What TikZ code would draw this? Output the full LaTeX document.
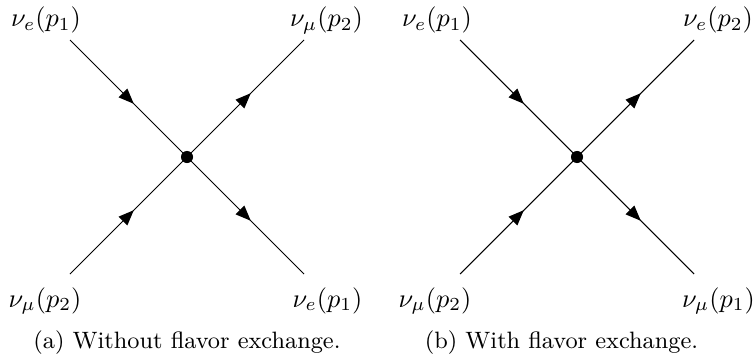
\documentclass[tikz,border=0pt]{standalone}
\usetikzlibrary{decorations.markings,arrows.meta}
\begin{document}
\begin{tikzpicture}[x=0.38pt,y=-0.38pt,
  fermion/.style={postaction={decorate},decoration={markings,
     mark=at position 0.5 with {\arrow[xshift=2.9pt]{Triangle[length=5.8pt,width=4.6pt]}}}},
  vdot/.style={circle,fill=black,inner sep=0pt,minimum size=4.6pt},
  plabel/.style={anchor=base,inner sep=0pt},
  caplabel/.style={anchor=base,inner sep=0pt,font=\small}]
\useasboundingbox (0,0) rectangle (754,360);
% diagram (a)
\node[vdot] (va) at (187,157) {};
\coordinate (a1) at (70,40);
\coordinate (a2) at (304,40);
\coordinate (a3) at (70,274);
\coordinate (a4) at (304,274);
\draw[fermion] (a1) -- (va.center);
\draw[fermion] (a3) -- (va.center);
\draw[fermion] (va.center) -- (a2);
\draw[fermion] (va.center) -- (a4);
\node[plabel] (la1) at (46,27) {$\nu_e(p_1)$};
\node[plabel] (la2) at (326.5,27) {$\nu_\mu(p_2)$};
\node[plabel] (la3) at (45,307) {$\nu_\mu(p_2)$};
\node[plabel] (la4) at (327.5,307) {$\nu_e(p_1)$};
\node[caplabel] (ca) at (187,348) {(a) Without flavor exchange.};
% diagram (b)
\node[vdot] (vb) at (577,157) {};
\coordinate (b1) at (460,40);
\coordinate (b2) at (694,40);
\coordinate (b3) at (460,274);
\coordinate (b4) at (694,274);
\draw[fermion] (b1) -- (vb.center);
\draw[fermion] (b3) -- (vb.center);
\draw[fermion] (vb.center) -- (b2);
\draw[fermion] (vb.center) -- (b4);
\node[plabel] (lb1) at (437,27) {$\nu_e(p_1)$};
\node[plabel] (lb2) at (718,27) {$\nu_e(p_2)$};
\node[plabel] (lb3) at (435,307) {$\nu_\mu(p_2)$};
\node[plabel] (lb4) at (718.5,307) {$\nu_\mu(p_1)$};
\node[caplabel] (cb) at (561.5,348) {(b) With flavor exchange.};
\end{tikzpicture}
\end{document}
